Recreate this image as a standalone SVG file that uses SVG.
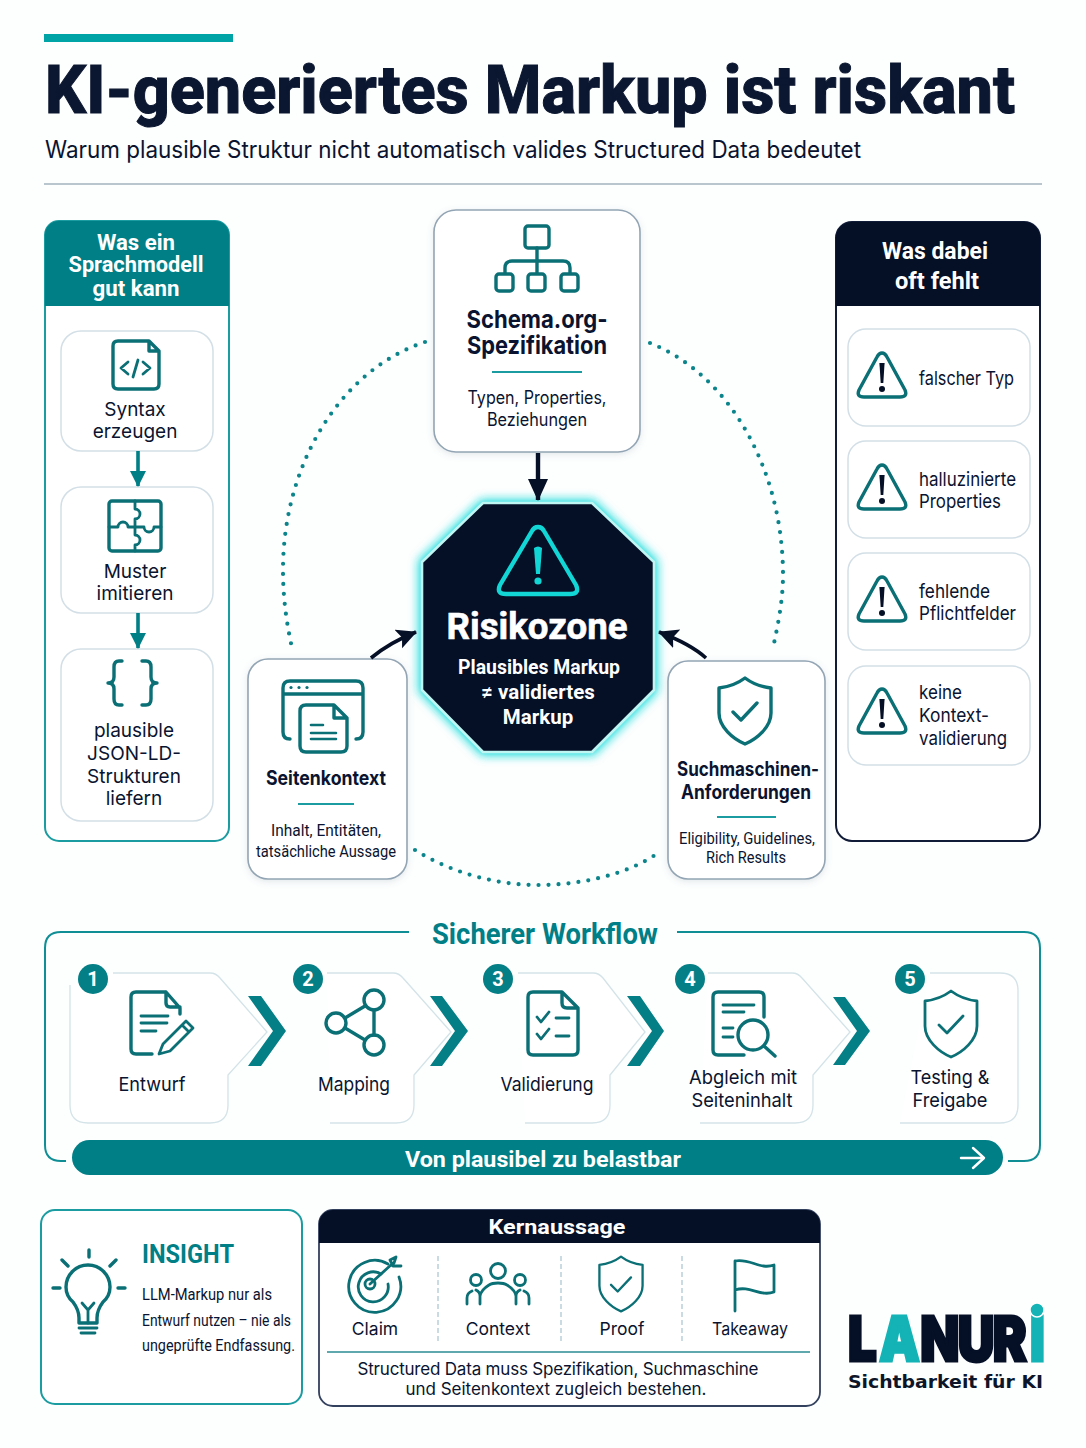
<svg xmlns="http://www.w3.org/2000/svg" width="1086" height="1448" viewBox="0 0 1086 1448">
<style>
text{font-family:Inter,"Liberation Sans",sans-serif;fill:#0a1430}
.c{text-anchor:middle}
.rb{font-family:Roboto,"Liberation Sans",sans-serif;font-weight:700}
.r{font-family:Roboto,"Liberation Sans",sans-serif;font-weight:400}
.w{fill:#fff}
.t{fill:#007f86}
.body{font-size:19px}
.card{fill:#fff;stroke:#d3dfe6;stroke-width:1.5}
.main{fill:#fff;stroke:#93a5b4;stroke-width:1.6;filter:url(#soft)}
.ic{fill:none;stroke:#0b6f76;stroke-width:3.4;stroke-linecap:round;stroke-linejoin:round}
.ic2{fill:none;stroke:#0b6f76;stroke-width:2.8;stroke-linecap:round;stroke-linejoin:round}
.step{fill:#fff;stroke:#d3e3e8;stroke-width:1.3}
.chev{fill:#057f86}
.badge{fill:#057f86}
.rule{stroke:#1b9ca1;stroke-width:1.8}
.dots{fill:none;stroke:#0b858b;stroke-width:4.2;stroke-linecap:round;stroke-dasharray:0 10}
.dash{stroke:#b5ccd6;stroke-width:1.4;stroke-dasharray:5 3}
.dark{fill:#050f26}
.teal{fill:#007f86}
</style>
<defs>
<marker id="ah-dark" markerUnits="userSpaceOnUse" markerWidth="24" markerHeight="24" refX="19" refY="10" orient="auto"><path d="M0,0 L20,10 L0,20 L4,10 Z" fill="#050f26"/></marker>
<marker id="ah-big" markerUnits="userSpaceOnUse" markerWidth="26" markerHeight="24" refX="21" refY="10" orient="auto"><path d="M0,0 L22,10 L0,20 Z" fill="#050f26"/></marker>
<marker id="ah-teal" markerUnits="userSpaceOnUse" markerWidth="20" markerHeight="20" refX="15" refY="8" orient="auto"><path d="M0,0 L16,8 L0,16 Z" fill="#007f86"/></marker>
<filter id="glow" x="-20%" y="-20%" width="140%" height="140%"><feGaussianBlur stdDeviation="5"/></filter>
<filter id="soft" x="-10%" y="-10%" width="120%" height="120%"><feDropShadow dx="0" dy="2" stdDeviation="3" flood-color="#6f8796" flood-opacity="0.18"/></filter>
<g id="warn"><path d="M0,-23 Q3,-23 5,-19 L23,14 Q26,21 18,21 H-18 Q-26,21 -23,14 L-5,-19 Q-3,-23 0,-23 Z" class="ic"/><path d="M-2.600,-13 H2.600 L1.300,7 H-1.300 Z" fill="#050f26"/><circle cx="0" cy="13" r="3" fill="#050f26"/></g>
<path id="shield" d="M0,-33 C8,-27 17,-24 26,-23 V2 C26,16 12,28 0,33 C-12,28 -26,16 -26,2 V-23 C-17,-24 -8,-27 0,-33 Z M-12,1 L-4,9 L12,-8"/>
</defs>
<rect width="1086" height="1448" fill="#fdfefe"/>

<g id="header">
<rect x="44" y="34" width="189" height="8" fill="#00a4a7"/>
<text class="rb" x="45" y="113" font-size="66" textLength="970" lengthAdjust="spacingAndGlyphs" style="font-weight:800;fill:#0b1730;stroke:#0b1730;stroke-width:1">KI-generiertes Markup ist riskant</text>
<text x="45" y="158" font-size="24" textLength="816" lengthAdjust="spacingAndGlyphs">Warum plausible Struktur nicht automatisch valides Structured Data bedeutet</text>
<line x1="44" y1="184" x2="1042" y2="184" stroke="#a3b3bd" stroke-width="1.5"/>
</g>

<g id="panel-left">
<rect x="45" y="221" width="184" height="620" rx="14" fill="#fff" stroke="#1b9ca1" stroke-width="2"/>
<path d="M45,306 V235 A14,14 0 0 1 59,221 H215 A14,14 0 0 1 229,235 V306 Z" class="teal"/>
<text class="rb c w" x="136" y="250" font-size="21.5" textLength="78" lengthAdjust="spacingAndGlyphs">Was ein</text>
<text class="rb c w" x="136" y="272" font-size="21.5" textLength="135" lengthAdjust="spacingAndGlyphs">Sprachmodell</text>
<text class="rb c w" x="136" y="296" font-size="21.5" textLength="87" lengthAdjust="spacingAndGlyphs">gut kann</text>
</g>
<g id="node-syntax">
<rect class="card" x="61" y="331" width="152" height="120" rx="20"/>
<path class="ic" d="M149,341 H118 Q113,341 113,346 V384 Q113,389 118,389 H154 Q159,389 159,384 V351 L149,341 V351 H159"/>
<path class="ic2" d="M128,362 L121,368 L128,374 M138,360 L133,377 M143,362 L150,368 L143,374"/>
<text class="body c" x="135" y="416">Syntax</text>
<text class="body c" x="135" y="438">erzeugen</text>
</g>
<g id="node-muster">
<rect class="card" x="61" y="487" width="152" height="126" rx="20"/>
<rect class="ic" x="109" y="501" width="52" height="50" rx="3"/>
<path class="ic2" d="M135,501 V509 a5,5 0 0 1 0,10 V535 a5,5 0 0 1 0,10 V551 M109,527 H118 a5,5 0 0 1 10,0 H144 a5,5 0 0 0 10,0 H161"/>
<text class="body c" x="135" y="578">Muster</text>
<text class="body c" x="135" y="600">imitieren</text>
</g>
<g id="node-json">
<rect class="card" x="61" y="649" width="152" height="172" rx="20"/>
<path class="ic" d="M122,661 H119 Q114,661 114,667 V677 Q114,683 108,683 Q114,683 114,689 V699 Q114,705 119,705 H122 M142,661 H146 Q151,661 151,667 V677 Q151,683 157,683 Q151,683 151,689 V699 Q151,705 146,705 H142"/>
<text class="body c" x="134" y="737">plausible</text>
<text class="body c" x="134" y="760">JSON-LD-</text>
<text class="body c" x="134" y="783">Strukturen</text>
<text class="body c" x="134" y="805">liefern</text>
</g>

<g id="node-schema">
<rect class="main" x="434" y="210" width="206" height="242" rx="22"/>
<g class="ic"><rect x="525" y="226" width="24" height="22" rx="3"/><path d="M537,248 V273 M505,273 V268 Q505,261 512,261 H563 Q570,261 570,268 V273"/><rect x="496" y="274" width="17" height="17" rx="3"/><rect x="528" y="274" width="17" height="17" rx="3"/><rect x="561" y="274" width="17" height="17" rx="3"/></g>
<text class="c" x="537" y="328" font-size="24.5" font-weight="700" textLength="141" lengthAdjust="spacingAndGlyphs">Schema.org-</text>
<text class="c" x="537" y="354" font-size="24.5" font-weight="700" textLength="140" lengthAdjust="spacingAndGlyphs">Spezifikation</text>
<line class="rule" x1="492" y1="372" x2="582" y2="372"/>
<text class="c" x="537" y="404" font-size="18" textLength="139" lengthAdjust="spacingAndGlyphs">Typen, Properties,</text>
<text class="c" x="537" y="426" font-size="18" textLength="100" lengthAdjust="spacingAndGlyphs">Beziehungen</text>
</g>

<g id="node-risk">
<polygon points="483,503 592,503 654,562 654,690 592,752 483,752 422,690 422,562" fill="#19dcdc" stroke="#19dcdc" stroke-width="7" filter="url(#glow)"/>
<polygon points="483,503 592,503 654,562 654,690 592,752 483,752 422,690 422,562" fill="#050f26" stroke="#bff5f3" stroke-width="2.6" stroke-linejoin="round"/>
<path d="M538,527 Q542,527 544,531 L576,585 Q580,594 570,594 H506 Q496,594 500,585 L532,531 Q534,527 538,527 Z" fill="none" stroke="#12d6d6" stroke-width="4.4" stroke-linejoin="round"/>
<path d="M534,548 Q538,545 542,548 L540,574 H536 Z" fill="#12d6d6"/>
<circle cx="538" cy="581" r="3.6" fill="#12d6d6"/>
<text class="rb c w" x="537" y="639" font-size="37" textLength="181" lengthAdjust="spacingAndGlyphs" style="stroke:#fff;stroke-width:.6">Risikozone</text>
<text class="rb c w" x="539" y="674" font-size="20.5" textLength="162" lengthAdjust="spacingAndGlyphs">Plausibles Markup</text>
<text class="rb c w" x="538" y="699" font-size="20.5">≠ validiertes</text>
<text class="rb c w" x="538" y="724" font-size="20.5">Markup</text>
</g>

<g id="node-seitenkontext">
<rect class="main" x="248" y="659" width="159" height="220" rx="20"/>
<g class="ic"><path d="M290,739 Q283,739 283,732 V688 Q283,681 290,681 H356 Q363,681 363,688 V732 Q363,739 356,739 M283,694 H363"/><path d="M334,705 H306 Q300,705 300,711 V746 Q300,752 306,752 H341 Q347,752 347,746 V718 L334,705 V718 H347" fill="#fff"/><path d="M311,725 H323 M311,733 H336 M311,739 H336" stroke-width="2.6"/></g>
<circle cx="291" cy="687.500" r="1.6" fill="#0b6f76"/><circle cx="299" cy="687.500" r="1.6" fill="#0b6f76"/><circle cx="307" cy="687.500" r="1.6" fill="#0b6f76"/>
<text class="c" x="326" y="785" font-size="19.5" font-weight="700" textLength="120" lengthAdjust="spacingAndGlyphs">Seitenkontext</text>
<line class="rule" x1="298" y1="804" x2="354" y2="804"/>
<text class="r c" x="326" y="836" font-size="16.500" textLength="110" lengthAdjust="spacingAndGlyphs">Inhalt, Entitäten,</text>
<text class="r c" x="326" y="857" font-size="16.500" textLength="140" lengthAdjust="spacingAndGlyphs">tatsächliche Aussage</text>
</g>

<g id="node-suchmaschinen">
<rect class="main" x="668" y="661" width="157" height="218" rx="20"/>
<use href="#shield" class="ic" transform="translate(745,711)"/>
<text class="c" x="748" y="776" font-size="19.500" font-weight="700" textLength="142" lengthAdjust="spacingAndGlyphs">Suchmaschinen-</text>
<text class="c" x="746" y="799" font-size="19.500" font-weight="700" textLength="130" lengthAdjust="spacingAndGlyphs">Anforderungen</text>
<line class="rule" x1="717" y1="817" x2="776" y2="817"/>
<text class="r c" x="747" y="844" font-size="16.500" textLength="136" lengthAdjust="spacingAndGlyphs">Eligibility, Guidelines,</text>
<text class="r c" x="746" y="863" font-size="16.500" textLength="80" lengthAdjust="spacingAndGlyphs">Rich Results</text>
</g>

<g id="panel-right">
<rect x="836" y="222" width="204" height="619" rx="16" fill="#fff" stroke="#111c38" stroke-width="2"/>
<path d="M836,306 V238 A16,16 0 0 1 852,222 H1024 A16,16 0 0 1 1040,238 V306 Z" class="dark"/>
<text class="rb c w" x="935" y="259" font-size="24" textLength="106" lengthAdjust="spacingAndGlyphs">Was dabei</text>
<text class="rb c w" x="937" y="289" font-size="24" textLength="84" lengthAdjust="spacingAndGlyphs">oft fehlt</text>
</g>
<g id="node-typ">
<rect class="card" x="848" y="329" width="182" height="97" rx="18"/>
<use href="#warn" transform="translate(882,376)"/>
<text class="body" x="919" y="385" textLength="95" lengthAdjust="spacingAndGlyphs">falscher Typ</text>
</g>
<g id="node-halluz">
<rect class="card" x="848" y="441" width="182" height="97" rx="18"/>
<use href="#warn" transform="translate(882,488)"/>
<text class="body" x="919" y="486" textLength="97" lengthAdjust="spacingAndGlyphs">halluzinierte</text>
<text class="body" x="919" y="508" textLength="82" lengthAdjust="spacingAndGlyphs">Properties</text>
</g>
<g id="node-pflicht">
<rect class="card" x="848" y="553" width="182" height="97" rx="18"/>
<use href="#warn" transform="translate(882,600)"/>
<text class="body" x="919" y="598" textLength="71" lengthAdjust="spacingAndGlyphs">fehlende</text>
<text class="body" x="919" y="620" textLength="97" lengthAdjust="spacingAndGlyphs">Pflichtfelder</text>
</g>
<g id="node-kontext">
<rect class="card" x="848" y="666" width="182" height="99" rx="18"/>
<use href="#warn" transform="translate(882,712)"/>
<text class="body" x="919" y="699" textLength="43" lengthAdjust="spacingAndGlyphs">keine</text>
<text class="body" x="919" y="722" textLength="70" lengthAdjust="spacingAndGlyphs">Kontext-</text>
<text class="body" x="919" y="745" textLength="88" lengthAdjust="spacingAndGlyphs">validierung</text>
</g>

<g id="workflow">
<path d="M409,932 H61 Q45,932 45,948 V1145 Q45,1161 61,1161 H66 M677,932 H1024 Q1040,932 1040,948 V1145 Q1040,1161 1024,1161 H1008" fill="none" stroke="#0f8f95" stroke-width="2"/>
<text class="rb c t" x="545" y="944" font-size="29" textLength="226" lengthAdjust="spacingAndGlyphs">Sicherer Workflow</text>
<rect x="72" y="1140" width="931" height="35" rx="17.500" class="teal"/>
<text class="rb c w" x="543" y="1167" font-size="22" textLength="276" lengthAdjust="spacingAndGlyphs">Von plausibel zu belastbar</text>
<path d="M961,1158 H983 M973,1148 L984,1158 L973,1168" fill="none" stroke="#fff" stroke-width="2.4" stroke-linecap="round" stroke-linejoin="round"/>
</g>

<g id="step-1">
<path class="step" d="M113,973 H210 Q216,973 220,978 L267,1032 L228,1075 V1105 Q228,1123 210,1123 H88 Q70,1123 70,1105 V985"/>
<polygon class="chev" points="248,996 261,996 286,1031 261,1066 248,1066 273,1031"/>
<circle class="badge" cx="93" cy="979" r="15"/><text class="rb c w" x="93" y="986" font-size="20">1</text>
<g class="ic"><path d="M166,992 H136 Q131,992 131,997 V1049 Q131,1054 136,1054 H152 M166,992 L180,1008 V1014 M166,992 V1003 Q166,1007 170,1007 H180"/><path class="ic2" d="M141,1016 H168 M141,1023 H167 M141,1031 H156"/><path d="M159,1054 L163,1044 L186,1021 L193,1028 L170,1051 Z M182,1025 L189,1032" stroke-width="2.800"/></g>
<text class="body c" x="152" y="1091" textLength="67" lengthAdjust="spacingAndGlyphs">Entwurf</text>
</g>
<g id="step-2">
<path class="step" d="M327,973 H393 Q399,973 403,978 L451,1032 L414,1075 V1105 Q414,1123 396,1123 H330"/>
<polygon class="chev" points="430,996 442,996 468,1031 442,1066 430,1066 455,1031"/>
<circle class="badge" cx="308" cy="979" r="15"/><text class="rb c w" x="308" y="986" font-size="20">2</text>
<g class="ic"><circle cx="374" cy="1000" r="10"/><circle cx="336" cy="1023" r="10"/><circle cx="374" cy="1045" r="10"/><path d="M345,1018 L365,1006 M345,1028 L365,1040 M374,1010 V1035"/></g>
<text class="body c" x="354" y="1091" textLength="72" lengthAdjust="spacingAndGlyphs">Mapping</text>
</g>
<g id="step-3">
<path class="step" d="M518,973 H593 Q599,973 603,978 L645,1032 L610,1075 V1105 Q610,1123 592,1123 H525"/>
<polygon class="chev" points="627,996 640,996 664,1031 640,1066 627,1066 652,1031"/>
<circle class="badge" cx="498" cy="979" r="15"/><text class="rb c w" x="498" y="986" font-size="20">3</text>
<g class="ic"><path d="M562,992 H533 Q528,992 528,997 V1050 Q528,1055 533,1055 H573 Q578,1055 578,1050 V1008 L562,992 V1003 Q562,1008 567,1008 H578"/><path class="ic2" d="M537,1017 L541,1022 L549,1012 M556,1018 H569 M537,1034 L541,1039 L549,1029 M556,1036 H569"/></g>
<text class="body c" x="547" y="1091" textLength="93" lengthAdjust="spacingAndGlyphs">Validierung</text>
</g>
<g id="step-4">
<path class="step" d="M708,973 H792 Q798,973 802,978 L850,1032 L813,1075 V1105 Q813,1123 795,1123 H700"/>
<polygon class="chev" points="833,997 845,997 870,1031 845,1065 833,1065 857,1031"/>
<circle class="badge" cx="690" cy="979" r="15"/><text class="rb c w" x="690" y="986" font-size="20">4</text>
<g class="ic"><path d="M764,1017 V997 Q764,992 759,992 H718 Q713,992 713,997 V1050 Q713,1055 718,1055 H744"/><path class="ic2" d="M723,1005 H754 M723,1012 H744 M723,1028 H733 M723,1037 H733"/><circle cx="753" cy="1035" r="15"/><path d="M764,1046 L775,1056"/></g>
<text class="body c" x="743" y="1084" textLength="108" lengthAdjust="spacingAndGlyphs">Abgleich mit</text>
<text class="body c" x="742" y="1107" textLength="101" lengthAdjust="spacingAndGlyphs">Seiteninhalt</text>
</g>
<g id="step-5">
<path class="step" d="M930,973 H1000 Q1018,973 1018,991 V1105 Q1018,1123 1000,1123 H900"/>
<circle class="badge" cx="910" cy="979" r="15"/><text class="rb c w" x="910" y="986" font-size="20">5</text>
<use href="#shield" class="ic2" transform="translate(951,1024)"/>
<text class="body c" x="950" y="1084" textLength="79" lengthAdjust="spacingAndGlyphs">Testing &amp;</text>
<text class="body c" x="950" y="1107" textLength="75" lengthAdjust="spacingAndGlyphs">Freigabe</text>
</g>

<g id="insight">
<rect x="41" y="1210" width="261" height="194" rx="14" fill="#fff" stroke="#1b9ca1" stroke-width="2"/>
<g class="ic"><path d="M79,1323 V1318 Q79,1310 73,1302 Q66,1296 66,1287 A22,22 0 0 1 110,1287 Q110,1296 103,1302 Q97,1310 97,1318 V1323 Z"/><path d="M82,1303 L88,1310 L94,1303 M88,1310 V1323 M79,1328 H97 M81,1333 H95" stroke-width="2.800"/><path d="M89,1250 V1257 M62,1260 L68,1266 M116,1260 L110,1266 M53,1288 H60 M118,1288 H125"/></g>
<text class="rb t" x="142" y="1263" font-size="26" textLength="92" lengthAdjust="spacingAndGlyphs">INSIGHT</text>
<text class="r" x="142" y="1300" font-size="17" textLength="130" lengthAdjust="spacingAndGlyphs">LLM-Markup nur als</text>
<text class="r" x="142" y="1326" font-size="17" textLength="149" lengthAdjust="spacingAndGlyphs">Entwurf nutzen – nie als</text>
<text class="r" x="142" y="1351" font-size="17" textLength="153" lengthAdjust="spacingAndGlyphs">ungeprüfte Endfassung.</text>
</g>

<g id="kernaussage">
<rect x="319" y="1210" width="501" height="196" rx="14" fill="#fff" stroke="#33415e" stroke-width="1.800"/>
<path d="M319,1243 V1224 A14,14 0 0 1 333,1210 H806 A14,14 0 0 1 820,1224 V1243 Z" class="dark"/>
<text class="rb c w" x="557" y="1234" font-size="21" textLength="137" lengthAdjust="spacingAndGlyphs">Kernaussage</text>
<line class="dash" x1="438" y1="1256" x2="438" y2="1341"/>
<line class="dash" x1="561" y1="1256" x2="561" y2="1341"/>
<line class="dash" x1="682" y1="1256" x2="682" y2="1341"/>
<line x1="327" y1="1352" x2="810" y2="1352" stroke="#5fa8ae" stroke-width="1.800"/>
<g class="ic2"><path d="M388,1264 A26,26 0 1 0 399,1277"/><path d="M381,1274 A15,15 0 1 0 388,1284"/><circle cx="370" cy="1284" r="5"/><path d="M370,1284 L392,1264 M390,1260 L393,1266 L401,1266 M390,1260 L396,1257 L394,1263"/></g>
<text class="c" x="375" y="1335" font-size="17.500">Claim</text>
<g class="ic2"><circle cx="498" cy="1271" r="7.500"/><circle cx="476" cy="1280" r="5.500"/><circle cx="520" cy="1280" r="5.500"/><path d="M467,1304 V1298 Q467,1293 472,1291 M480,1304 V1296 Q480,1292 476,1290 M480,1296 Q481,1290 489,1285 Q492,1283 498,1283 Q504,1283 507,1285 Q515,1290 516,1296 V1304 M516,1296 Q516,1292 520,1290 M529,1304 V1298 Q529,1293 524,1291"/></g>
<text class="c" x="498" y="1335" font-size="17.500">Context</text>
<use href="#shield" class="ic2" transform="translate(621,1284) scale(0.83)"/>
<text class="c" x="622" y="1335" font-size="17.500">Proof</text>
<g class="ic"><path d="M735,1261 V1311 M735,1261 C750,1258 760,1270 774,1265 V1292 C760,1297 750,1285 735,1290" stroke-width="2.800"/></g>
<text class="c" x="750" y="1335" font-size="17.500" textLength="76" lengthAdjust="spacingAndGlyphs">Takeaway</text>
<text class="c" x="558" y="1375" font-size="17" textLength="401" lengthAdjust="spacing">Structured Data muss Spezifikation, Suchmaschine</text>
<text class="c" x="556" y="1395" font-size="17" textLength="301" lengthAdjust="spacing">und Seitenkontext zugleich bestehen.</text>
</g>

<g id="logo">
<text transform="translate(848,1361) scale(.82,1)" y="0" font-size="62" font-weight="900" style="fill:#050f26;stroke:#050f26;stroke-width:3"><tspan x="0">L</tspan><tspan x="38" style="fill:#14b3b5;stroke:#14b3b5">A</tspan><tspan x="88" letter-spacing="-2">NUR</tspan><tspan x="222" style="fill:#14b3b5;stroke:#14b3b5">I</tspan></text>
<circle cx="1037" cy="1310" r="7" fill="#14b3b5" stroke="#fdfefe" stroke-width="1.500"/>
<text x="848" y="1388" font-size="18" textLength="195" lengthAdjust="spacingAndGlyphs" style="font-family:'DejaVu Sans',sans-serif;font-weight:700;fill:#0d1528">Sichtbarkeit für KI</text>
</g>

<g id="connectors">
<path class="dots" d="M425,342 C340,370 283,465 283,570 C283,600 287,625 292,648"/>
<path class="dots" d="M650,343 C730,375 783,470 783,575 C783,600 778,625 773,648"/>
<path class="dots" d="M415,850 C450,872 495,885 538,885 C580,885 625,875 655,855"/>
<path d="M538,453 V500" fill="none" stroke="#050f26" stroke-width="4.400" marker-end="url(#ah-big)"/>
<path d="M371,658 C383,648 396,640 416,632" fill="none" stroke="#050f26" stroke-width="3.600" marker-end="url(#ah-dark)"/>
<path d="M706,658 C695,648 680,640 659,632" fill="none" stroke="#050f26" stroke-width="3.600" marker-end="url(#ah-dark)"/>
<path d="M138,451 V486" fill="none" stroke="#007f86" stroke-width="3.600" marker-end="url(#ah-teal)"/>
<path d="M138,613 V648" fill="none" stroke="#007f86" stroke-width="3.600" marker-end="url(#ah-teal)"/>
</g>
</svg>
